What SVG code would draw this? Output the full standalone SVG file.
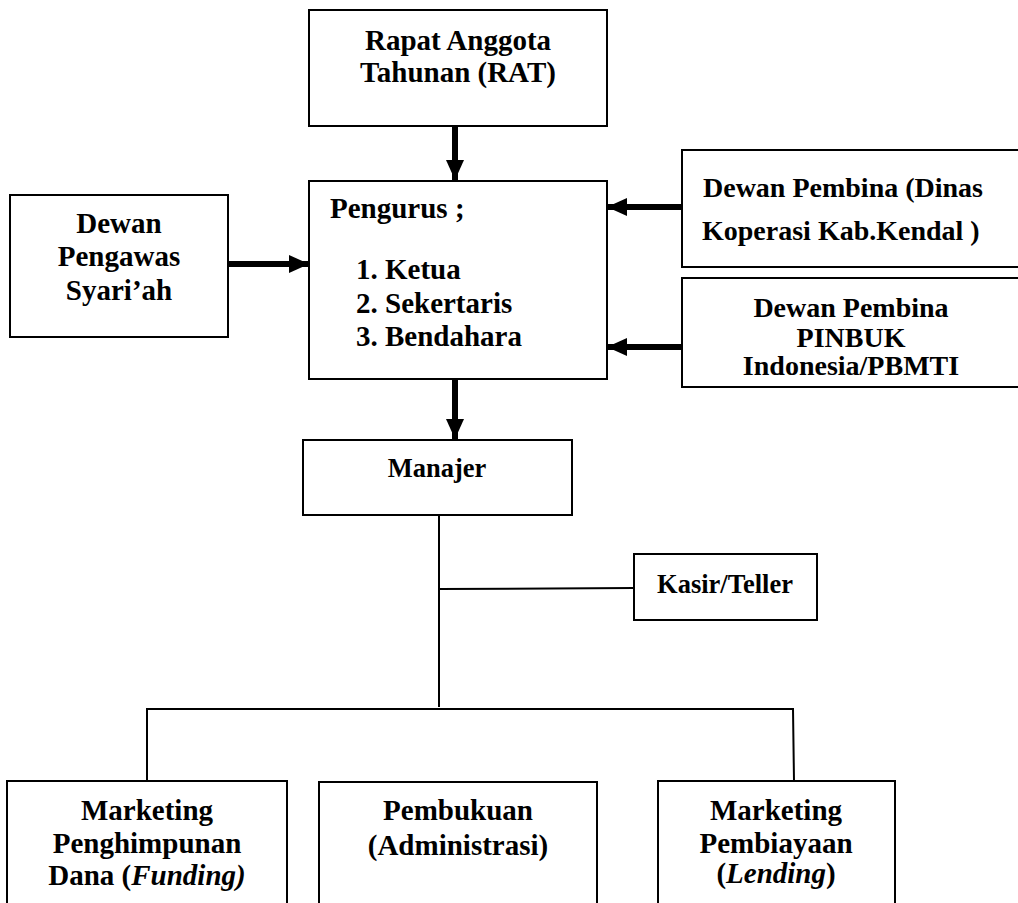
<svg xmlns="http://www.w3.org/2000/svg" width="1018" height="903" viewBox="0 0 1018 903">
<style>
.box{fill:#fff;stroke:#000;stroke-width:2}
.t{font-family:"Liberation Serif","Times New Roman",serif;font-weight:bold;font-size:29px;fill:#000}
.c{text-anchor:middle}
.thick{stroke:#000;stroke-width:6;fill:none}
.thin{stroke:#000;stroke-width:2;fill:none}
</style>
<defs>
<marker id="ah" markerUnits="userSpaceOnUse" markerWidth="20" markerHeight="18" refX="20" refY="9" orient="auto">
<path d="M0,0 L20,9 L0,18 z" fill="#000"/>
</marker>
</defs>
<g id="rat">
<rect class="box" x="309" y="10" width="298" height="116"/>
<text class="t c" x="458" y="50">Rapat Anggota</text>
<text class="t c" x="458" y="82">Tahunan (RAT)</text>
</g>
<g id="pengurus">
<rect class="box" x="309" y="181" width="298" height="198"/>
<text class="t" x="330" y="218">Pengurus ;</text>
<text class="t" x="356" y="279">1. Ketua</text>
<text class="t" x="356" y="313">2. Sekertaris</text>
<text class="t" x="356" y="346">3. Bendahara</text>
</g>
<g id="pengawas">
<rect class="box" x="10" y="195" width="218" height="142"/>
<text class="t c" x="119" y="233">Dewan</text>
<text class="t c" x="119" y="266">Pengawas</text>
<text class="t c" x="119" y="300">Syari’ah</text>
</g>
<g id="pembina1">
<rect class="box" x="682" y="150" width="350" height="117"/>
<text class="t" x="703" y="197" style="font-size:28px">Dewan Pembina (Dinas</text>
<text class="t" x="702" y="240" style="font-size:28px">Koperasi Kab.Kendal )</text>
</g>
<g id="pembina2">
<rect class="box" x="682" y="278" width="350" height="109"/>
<text class="t c" x="851" y="317" style="font-size:28px">Dewan Pembina</text>
<text class="t c" x="851" y="347" style="font-size:28px">PINBUK</text>
<text class="t c" x="851" y="375" style="font-size:28px">Indonesia/PBMTI</text>
</g>
<g id="manajer">
<rect class="box" x="303" y="440" width="269" height="75"/>
<text class="t c" x="437" y="477" style="font-size:26.5px">Manajer</text>
</g>
<g id="kasir">
<rect class="box" x="634" y="554" width="183" height="66"/>
<text class="t c" x="725" y="593" style="font-size:26.5px">Kasir/Teller</text>
</g>
<g id="funding">
<rect class="box" x="7" y="781" width="280" height="140"/>
<text class="t c" x="147" y="820">Marketing</text>
<text class="t c" x="147" y="853">Penghimpunan</text>
<text class="t c" x="147" y="885">Dana (<tspan font-style="italic">Funding)</tspan></text>
</g>
<g id="pembukuan">
<rect class="box" x="319" y="782" width="278" height="140"/>
<text class="t c" x="458" y="820">Pembukuan</text>
<text class="t c" x="458" y="855">(Administrasi)</text>
</g>
<g id="lending">
<rect class="box" x="658" y="781" width="237" height="140"/>
<text class="t c" x="776" y="820">Marketing</text>
<text class="t c" x="776" y="853">Pembiayaan</text>
<text class="t c" x="776" y="883">(<tspan font-style="italic">Lending</tspan>)</text>
</g>
<g id="connectors">
<line class="thick" x1="455" y1="126" x2="455" y2="180" marker-end="url(#ah)"/>
<line class="thick" x1="228" y1="264" x2="309" y2="264" marker-end="url(#ah)"/>
<line class="thick" x1="682" y1="207" x2="607" y2="207" marker-end="url(#ah)"/>
<line class="thick" x1="682" y1="347" x2="607" y2="347" marker-end="url(#ah)"/>
<line class="thick" x1="455" y1="379" x2="455" y2="439" marker-end="url(#ah)"/>
<line class="thin" x1="439" y1="515" x2="439" y2="707"/>
<line class="thin" x1="439" y1="589" x2="634" y2="588"/>
<polyline class="thin" points="147,781 147,709 793,709 794,781"/>
</g>
</svg>
